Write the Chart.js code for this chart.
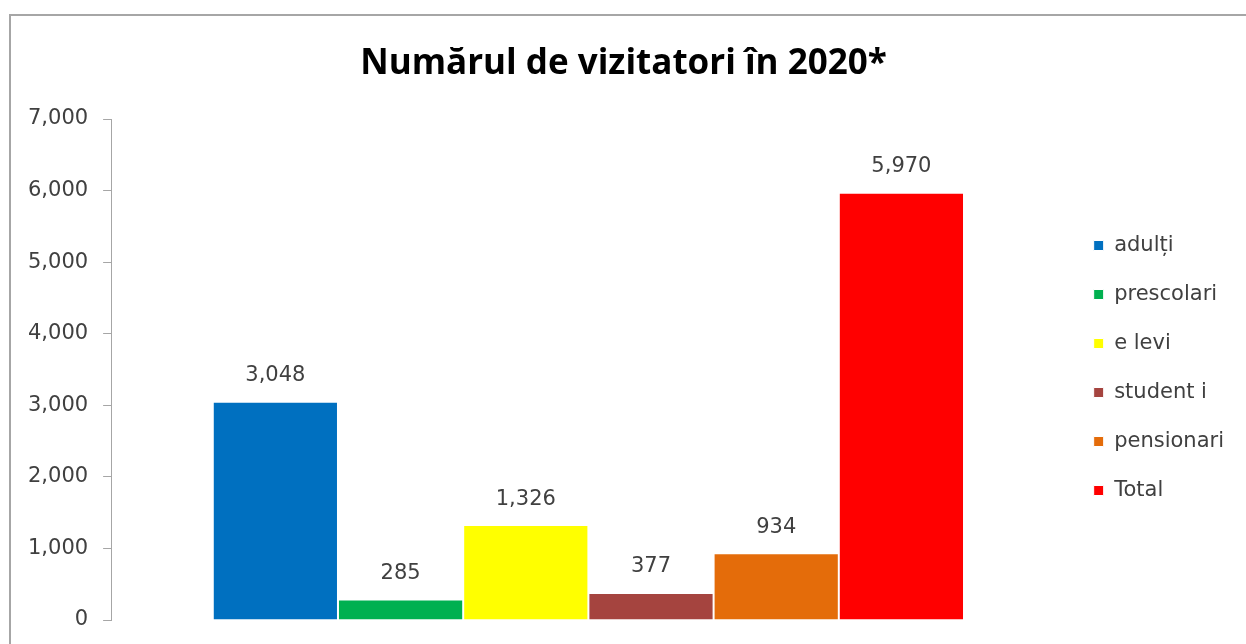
<!DOCTYPE html>
<html>
<head>
<meta charset="utf-8">
<script src="https://cdn.jsdelivr.net/npm/chart.js@4.4.1/dist/chart.umd.min.js"></script>
<style>
    body { margin: 0; background: #fff; overflow: hidden; }
    #frame {
        position: absolute;
        left: 9px;
        top: 14px;
        width: 1250px;
        height: 640px;
        border-top: 2px solid #a6a6a6;
        border-left: 2px solid #a6a6a6;
    }
    #wrap { position: absolute; left: 0; top: 0; width: 1240px; height: 628px; }
</style>
</head>
<body>
<div id="frame"><div id="wrap"><canvas id="myChart"></canvas></div></div>
<script>
const categories = [''];
const seriesNames = ['adulți', 'prescolari', 'e levi', 'student i', 'pensionari', 'Total'];
const seriesValues = [3048, 285, 1326, 377, 934, 5970];
const seriesColors = ['#0070C0', '#00B050', '#FFFF00', '#A5443F', '#E46C0A', '#FF0000'];
const yTicks = [0, 1000, 2000, 3000, 4000, 5000, 6000, 7000];

const fontFamily = '"DejaVu Sans", sans-serif';
const titleFamily = '"Open Sans", sans-serif';
const textColor = '#404040';

let datasets = [];
for (let i = 0; i !== seriesNames.length; i++) {
    datasets.push({
        label: seriesNames[i],
        data: [seriesValues[i]],
        backgroundColor: seriesColors[i],
        borderColor: '#ffffff',
        borderWidth: 1,
        categoryPercentage: 0.787,
        barPercentage: 1.0
    });
}

// value labels above each bar
const valueLabels = {
    id: 'valueLabels',
    afterDatasetsDraw(chart) {
        const ctx = chart.ctx;
        ctx.save();
        ctx.font = '21px ' + fontFamily;
        ctx.fillStyle = textColor;
        ctx.textAlign = 'center';
        ctx.textBaseline = 'middle';
        chart.data.datasets.forEach((ds, i) => {
            const meta = chart.getDatasetMeta(i);
            meta.data.forEach((bar, j) => {
                ctx.fillText(ds.data[j].toLocaleString('en-US'), bar.x, bar.y - 26);
            });
        });
        ctx.restore();
    }
};

const config = {
    type: 'bar',
    data: { labels: categories, datasets: datasets },
    options: {
        responsive: true,
        maintainAspectRatio: false,
        animation: false,
        layout: { padding: { left: 2, right: 17, top: 0, bottom: 24 } },
        scales: {
            x: {
                display: false
            },
            y: {
                min: 0,
                max: 7000,
                afterBuildTicks: axis => { axis.ticks = yTicks.map(v => ({ value: v })); },
                // let the layout padding alone decide the bottom edge
                afterFit: axis => { axis.paddingBottom = 0; },
                grid: {
                    drawOnChartArea: false,
                    drawTicks: true,
                    tickLength: 8,
                    color: '#a6a6a6'
                },
                border: { display: true, color: '#a6a6a6', width: 1 },
                ticks: {
                    padding: 15,
                    color: textColor,
                    font: { family: fontFamily, size: 21 },
                    callback: v => v.toLocaleString('en-US')
                }
            }
        },
        plugins: {
            title: {
                display: true,
                text: 'Numărul de vizitatori în 2020*',
                color: '#000000',
                font: { family: titleFamily, size: 35, weight: 'bold' },
                padding: { top: 27, bottom: 34 }
            },
            legend: {
                position: 'right',
                title: {
                    display: true,
                    text: '',
                    font: { size: 10 },
                    padding: { top: 88, bottom: 0 }
                },
                labels: {
                    boxWidth: 10,
                    boxHeight: 10,
                    padding: 28,
                    color: textColor,
                    font: { family: fontFamily, size: 21 }
                }
            },
            tooltip: { enabled: false }
        }
    },
    plugins: [valueLabels]
};

new Chart(document.getElementById('myChart'), config);
</script>
</body>
</html>
